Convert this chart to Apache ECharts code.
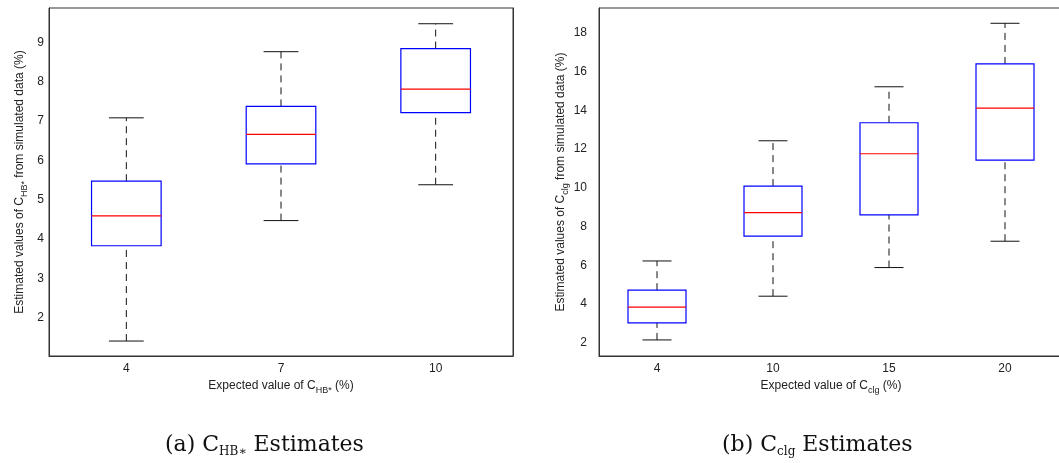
<!DOCTYPE html>
<html>
<head>
<meta charset="utf-8">
<title>Boxplots</title>
<script src="https://cdn.jsdelivr.net/npm/echarts@6/dist/echarts.min.js"></script>
<style>
  html, body { margin: 0; padding: 0; background: #fff; }
  #main { width: 1059px; height: 463px; }
</style>
</head>
<body>
<div id="main"></div>
<script>
// (a) C_HB* : boxplot statistics
var catsA = ['4', '7', '10'];
var loA  = [1.41, 4.47, 5.38];
var q1A  = [3.83, 5.91, 7.21];
var medA = [4.59, 6.66, 7.81];
var q3A  = [5.47, 7.37, 8.84];
var hiA  = [7.08, 8.76, 9.47];

// (b) C_clg
var catsB = ['4', '10', '15', '20'];
var loB  = [2.14, 4.40, 5.88, 7.24];
var q1B  = [3.02, 7.50, 8.60, 11.43];
var medB = [3.84, 8.72, 11.76, 14.12];
var q3B  = [4.71, 10.09, 13.36, 16.40];
var hiB  = [6.22, 12.43, 15.22, 18.50];

var myChart = echarts.init(document.getElementById('main'));

function rows(lo, q1, med, q3, hi) {
    var out = [];
    for (var i = 0; i < lo.length; i++) {
        out.push([i, lo[i], q1[i], med[i], q3[i], hi[i]]);
    }
    return out;
}

// box drawn like matlab: blue box, red median, black dashed whiskers
function boxRenderer(boxFrac) {
    return function (params, api) {
        var i = api.value(0);
        var lo = api.coord([i, api.value(1)]);
        var q1 = api.coord([i, api.value(2)]);
        var md = api.coord([i, api.value(3)]);
        var q3 = api.coord([i, api.value(4)]);
        var hi = api.coord([i, api.value(5)]);
        var band = api.size([1, 0])[0];
        var hw = band * boxFrac / 2;
        var cw = hw / 2;
        var x = lo[0];
        var wh = { stroke: '#111', lineWidth: 1, lineDash: [7, 5] };
        var cap = { stroke: '#111', lineWidth: 1 };
        return {
            type: 'group',
            children: [
                { type: 'line', shape: { x1: x, y1: q3[1], x2: x, y2: hi[1] }, style: wh },
                { type: 'line', shape: { x1: x, y1: lo[1], x2: x, y2: q1[1] }, style: wh },
                { type: 'line', shape: { x1: x - cw, y1: hi[1], x2: x + cw, y2: hi[1] }, style: cap },
                { type: 'line', shape: { x1: x - cw, y1: lo[1], x2: x + cw, y2: lo[1] }, style: cap },
                { type: 'rect', shape: { x: x - hw, y: q3[1], width: hw * 2, height: q1[1] - q3[1] },
                  style: { fill: 'none', stroke: '#0000ff', lineWidth: 1.2 } },
                { type: 'line', shape: { x1: x - hw, y1: md[1], x2: x + hw, y2: md[1] },
                  style: { stroke: '#ff0000', lineWidth: 1.2 } }
            ]
        };
    };
}

var font = 'Liberation Sans, Arial, sans-serif';
var serif = 'DejaVu Serif, serif';
var rich = {
    sub: { fontSize: 9, fontFamily: font, color: '#222', padding: [9, 0, 0, 0] }
};
var capRich = {
    s: { fontSize: 12, fontFamily: serif, fill: '#111', padding: [13, 0, 0, 0] }
};

function yAx(idx, min, max, split, margin, name, gap) {
    return {
        type: 'value', gridIndex: idx, min: min, max: max, splitNumber: split,
        name: name, nameLocation: 'middle', nameGap: gap, nameRotate: 90,
        nameTextStyle: { fontFamily: font, fontSize: 12, color: '#222', rich: rich },
        axisLine: { show: true, lineStyle: { color: '#333' } },
        axisTick: { inside: true, length: 5, lineStyle: { color: '#333' } },
        axisLabel: { fontFamily: font, fontSize: 12, color: '#222', margin: margin,
                     showMinLabel: false, showMaxLabel: false },
        splitLine: { show: false }
    };
}
function yMirror(idx, min, max, split) {
    return {
        type: 'value', gridIndex: idx, position: 'right', min: min, max: max, splitNumber: split,
        axisLine: { show: true, lineStyle: { color: '#333' } },
        axisTick: { inside: true, length: 5, lineStyle: { color: '#333' } },
        axisLabel: { show: false },
        splitLine: { show: false }
    };
}
function xAx(idx, cats, name) {
    return {
        type: 'category', gridIndex: idx, data: cats,
        name: name, nameLocation: 'middle', nameGap: 21,
        nameTextStyle: { fontFamily: font, fontSize: 12, color: '#222', rich: rich },
        axisLine: { show: true, lineStyle: { color: '#333' } },
        axisTick: { show: false },
        axisLabel: { fontFamily: font, fontSize: 12, color: '#222', margin: 7 },
        splitLine: { show: false }
    };
}

var option = {
    animation: false,
    grid: [
        { left: 49, top: 8, width: 464, height: 348, show: true, borderColor: '#333', borderWidth: 1,
          containLabel: false, outerBoundsMode: 'none' },
        { left: 599, top: 8, width: 464, height: 348, show: true, borderColor: '#333', borderWidth: 1,
          containLabel: false, outerBoundsMode: 'none' }
    ],
    xAxis: [
        xAx(0, catsA, 'Expected value of C{sub|HB*} (%)'),
        xAx(1, catsB, 'Expected value of C{sub|clg} (%)')
    ],
    yAxis: [
        yAx(0, 1.03, 9.87, 8, 5, 'Estimated values of C{sub|HB*} from simulated data (%)', 20),
        yMirror(0, 1.03, 9.87, 8),
        yAx(1, 1.31, 19.29, 9, 12, 'Estimated values of C{sub|clg} from simulated data (%)', 26),
        yMirror(1, 1.31, 19.29, 9)
    ],
    series: [
        { type: 'custom', xAxisIndex: 0, yAxisIndex: 0, renderItem: boxRenderer(0.45),
          encode: { x: 0, y: [1, 2, 3, 4, 5] }, data: rows(loA, q1A, medA, q3A, hiA) },
        { type: 'custom', xAxisIndex: 1, yAxisIndex: 2, renderItem: boxRenderer(0.5),
          encode: { x: 0, y: [1, 2, 3, 4, 5] }, data: rows(loB, q1B, medB, q3B, hiB) }
    ],
    graphic: [
        { type: 'text', left: 165, top: 434,
          style: { text: '(a) C{s|HB∗} Estimates', fontFamily: serif, fontSize: 22, fill: '#111', rich: capRich } },
        { type: 'text', left: 722, top: 434,
          style: { text: '(b) C{s|clg} Estimates', fontFamily: serif, fontSize: 22, fill: '#111', rich: capRich } }
    ]
};

myChart.setOption(option);
</script>
</body>
</html>
